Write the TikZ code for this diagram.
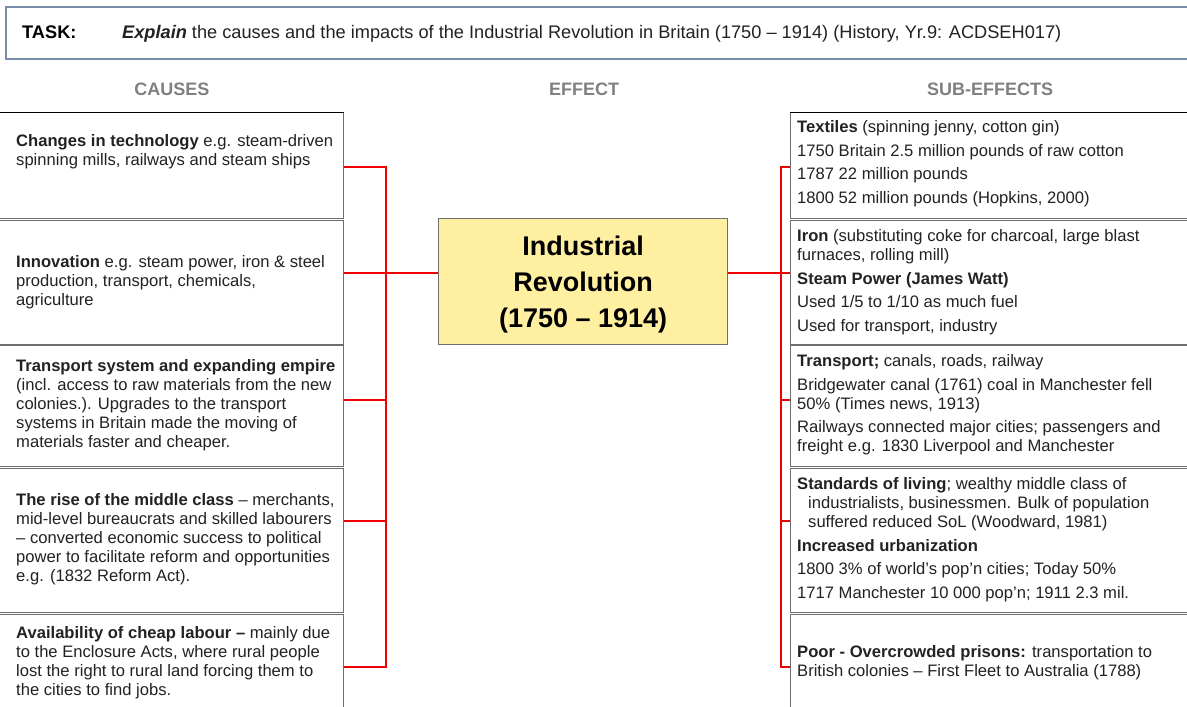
\documentclass[tikz,border=0pt]{standalone}
\usepackage{fontspec}
\setmainfont{Liberation Sans}
\definecolor{conred}{RGB}{240,0,0}
\definecolor{cellgray}{RGB}{110,110,110}
\definecolor{txt}{RGB}{34,34,34}
\definecolor{hdrgray}{RGB}{128,128,128}
\definecolor{taskblue}{RGB}{120,140,170}
\definecolor{effyellow}{RGB}{255,239,161}
\begin{document}
\begin{tikzpicture}[x=1pt,y=-1pt,
  cell/.style={rectangle, draw=cellgray, line width=1.2pt, fill=white, inner sep=0pt, anchor=north west},
  body/.style={anchor=north west, inner sep=0pt, align=left, text=txt, font=\fontsize{16.6}{19}\selectfont},
  hdr/.style={font=\fontsize{18}{20}\selectfont\bfseries, text=hdrgray, inner sep=0pt},
  conn/.style={draw=conred, line width=1.8pt},
  topline/.style={draw=black, line width=1pt}
]
\useasboundingbox (0,0) rectangle (1187,707);
\clip (0,0) rectangle (1187,707);
\fill[white] (0,0) rectangle (1187,707);

% task box
\node[rectangle, draw=taskblue, line width=2pt, fill=white, minimum width=1190, minimum height=52, anchor=north west] (task) at (5,5.5) {};
\node[anchor=base west, inner sep=0pt, font=\fontsize{18.2}{20}\selectfont, text=black] (tasklbl) at (22,38.5) {\textbf{TASK:}};
\node[anchor=base west, inner sep=0pt, font=\fontsize{18.2}{20}\selectfont, text=txt] (tasktxt) at (122,38.5) {\textbf{\textit{Explain}} the causes and the impacts of the Industrial Revolution in Britain (1750 – 1914) (History, Yr.9: ACDSEH017)};

% headers
\node[hdr] (hc) at (172,89) {CAUSES};
\node[hdr] (he) at (584,89) {EFFECT};
\node[hdr] (hs) at (990,89) {SUB-EFFECTS};

% left cells
\node[cell, minimum width=348, minimum height=106] (c1) at (-5,112) {};
\node[cell, minimum width=348, minimum height=124] (c2) at (-5,219.5) {};
\node[cell, minimum width=348, minimum height=121.5] (c3) at (-5,344.5) {};
\node[cell, minimum width=348, minimum height=144.5] (c4) at (-5,467.5) {};
\node[cell, minimum width=348, minimum height=110] (c5) at (-5,613.5) {};
\draw[topline] (c1.north west) -- (c1.north east);

% right cells
\node[cell, minimum width=405, minimum height=106] (s1) at (790,112) {};
\node[cell, minimum width=405, minimum height=124] (s2) at (790,219.5) {};
\node[cell, minimum width=405, minimum height=121.5] (s3) at (790,344.5) {};
\node[cell, minimum width=405, minimum height=144.5] (s4) at (790,467.5) {};
\node[cell, minimum width=405, minimum height=110] (s5) at (790,613.5) {};
\draw[topline] (s1.north west) -- (s1.north east);

% effect
\node[rectangle, draw=cellgray, line width=1.2pt, fill=effyellow, minimum width=289, minimum height=126, anchor=north west, inner sep=0pt] (ir) at (438,218) {};
\node[align=center, inner sep=0pt, font=\fontsize{27}{36}\selectfont\bfseries, text=black] (irt) at ([yshift=-2.8pt]ir.center) {Industrial\\Revolution\\(1750 – 1914)};

% left texts
\node[body] (c1t) at (16,134.5) {\textbf{Changes in technology} e.g. steam-driven\\spinning mills, railways and steam ships};
\node[body] (c2t) at (16,255.5) {\textbf{Innovation} e.g. steam power, iron \& steel\\production, transport, chemicals,\\agriculture};
\node[body] (c3t) at (16,359.5) {\textbf{Transport system and expanding empire}\\(incl. access to raw materials from the new\\colonies.). Upgrades to the transport\\systems in Britain made the moving of\\materials faster and cheaper.};
\node[body] (c4t) at (16,493.5) {\textbf{The rise of the middle class} – merchants,\\mid-level bureaucrats and skilled labourers\\– converted economic success to political\\power to facilitate reform and opportunities\\e.g. (1832 Reform Act).};
\node[body] (c5t) at (16,626.5) {\textbf{Availability of cheap labour –} mainly due\\to the Enclosure Acts, where rural people\\lost the right to rural land forcing them to\\the cities to find jobs.};

% right texts
\node[body] (s1t) at (797,120.5) {\textbf{Textiles} (spinning jenny, cotton gin)\\[4.5pt]1750 Britain 2.5 million pounds of raw cotton\\[4.5pt]1787 22 million pounds\\[4.5pt]1800 52 million pounds (Hopkins, 2000)};
\node[body] (s2t) at (797,229.5) {\textbf{Iron} (substituting coke for charcoal, large blast\\furnaces, rolling mill)\\[4.5pt]\textbf{Steam Power (James Watt)}\\[4.5pt]Used 1/5 to 1/10 as much fuel\\[4.5pt]Used for transport, industry};
\node[body] (s3t) at (797,354.5) {\textbf{Transport;} canals, roads, railway\\[4.5pt]Bridgewater canal (1761) coal in Manchester fell\\50\% (Times news, 1913)\\[4.5pt]Railways connected major cities; passengers and\\freight e.g. 1830 Liverpool and Manchester};
\node[body] (s4t) at (797,477.5) {\textbf{Standards of living}; wealthy middle class of\\\hspace*{11pt}industrialists, businessmen. Bulk of population\\\hspace*{11pt}suffered reduced SoL (Woodward, 1981)\\[4.5pt]\textbf{Increased urbanization}\\[4.5pt]1800 3\% of world’s pop’n cities; Today 50\%\\[4.5pt]1717 Manchester 10 000 pop’n; 1911 2.3 mil.};
\node[body] (s5t) at (797,645.5) {\textbf{Poor - Overcrowded prisons:} transportation to\\British colonies – First Fleet to Australia (1788)};

% connector bus points
\coordinate (lb1) at (386,167);
\coordinate (lb2) at (386,273);
\coordinate (lb3) at (386,400);
\coordinate (lb4) at (386,521);
\coordinate (lb5) at (386,667);
\coordinate (rb1) at (781,167);
\coordinate (rb2) at (781,273);
\coordinate (rb3) at (781,400);
\coordinate (rb4) at (781,521);
\coordinate (rb5) at (781,667);

% left connectors
\draw[conn] (c1.east |- lb1) -- (lb1) -- (lb5) -- (c5.east |- lb5);
\draw[conn] (c2.east |- lb2) -- (ir.west |- lb2);
\draw[conn] (c3.east |- lb3) -- (lb3);
\draw[conn] (c4.east |- lb4) -- (lb4);

% right connectors
\draw[conn] (s1.west |- rb1) -- (rb1) -- (rb5) -- (s5.west |- rb5);
\draw[conn] (ir.east |- rb2) -- (s2.west |- rb2);
\draw[conn] (rb3) -- (s3.west |- rb3);
\draw[conn] (rb4) -- (s4.west |- rb4);
\end{tikzpicture}
\end{document}
